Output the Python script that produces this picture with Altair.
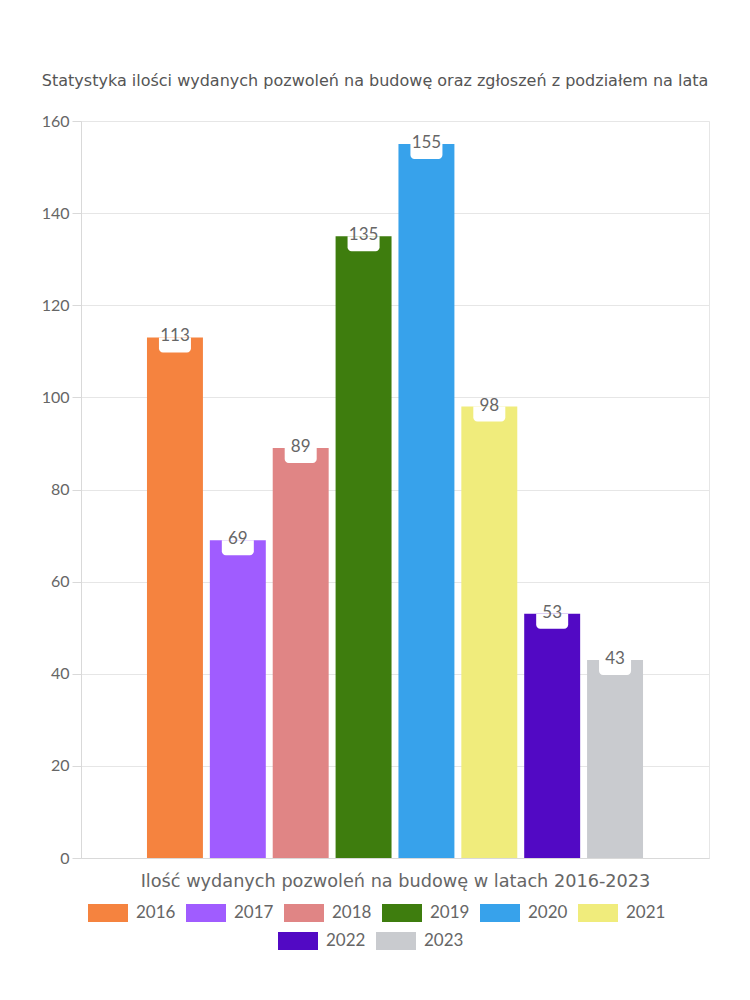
import altair as alt
import pandas as pd

years = ["2016", "2017", "2018", "2019", "2020", "2021", "2022", "2023"]
values = [113, 69, 89, 135, 155, 98, 53, 43]
colors = ["#F5833F", "#A05CFF", "#E08585", "#3E7D0E", "#37A2EB", "#F0EC7C", "#5209C4", "#C9CBCF"]
row1_years = years[:6]
row2_years = years[6:]

title_text = "Statystyka ilości wydanych pozwoleń na budowę oraz zgłoszeń z podziałem na lata"
x_title = "Ilość wydanych pozwoleń na budowę w latach 2016-2023"

df = pd.DataFrame({"year": years, "value": values, "group": ["all"] * len(years)})

FONT = "DejaVu Sans"
NUMFONT = "Lato"
TXT = "#666666"

x_enc = alt.X(
    "group:N",
    scale=alt.Scale(paddingInner=0, paddingOuter=0.133),
    axis=alt.Axis(labels=False, ticks=False, title=x_title, titleFontSize=17.7,
                  titleColor=TXT, titleFont=FONT, titleFontWeight="normal",
                  titlePadding=14, domainColor="#d9d9d9", grid=False),
)
xo_enc = alt.XOffset("year:N", scale=alt.Scale(domain=years, paddingInner=0.11, paddingOuter=0))
y_enc = alt.Y(
    "value:Q",
    scale=alt.Scale(domain=[0, 160]),
    axis=alt.Axis(values=list(range(0, 161, 20)), title=None, labelFontSize=16,
                  labelColor=TXT, labelFont=NUMFONT, labelPadding=3, tickSize=9,
                  tickColor="#d9d9d9", domainColor="#d9d9d9", gridColor="#e6e6e6"),
)

sym = "M-1,-0.45L1,-0.45L1,0.45L-1,0.45Z"

def legend(lx, ly):
    return alt.Legend(orient="none", legendX=lx, legendY=ly, direction="horizontal",
                      title=None, symbolType=sym, symbolSize=1600, symbolStrokeWidth=0,
                      labelFontSize=17, labelColor=TXT, labelFont=NUMFONT, labelOffset=8,
                      columnPadding=10, symbolOpacity=1)

base = alt.Chart(df)

bars1 = base.transform_filter(
    alt.FieldOneOfPredicate(field="year", oneOf=row1_years)
).mark_bar().encode(
    x=x_enc, xOffset=xo_enc, y=y_enc,
    color=alt.Color("year:N", scale=alt.Scale(domain=row1_years, range=colors[:6]),
                    legend=legend(7, 772)),
)
bars2 = base.transform_filter(
    alt.FieldOneOfPredicate(field="year", oneOf=row2_years)
).mark_bar().encode(
    x=x_enc, xOffset=xo_enc, y=y_enc,
    color=alt.Color("year:N", scale=alt.Scale(domain=row2_years, range=colors[6:]),
                    legend=legend(197, 800)),
)

boxes = base.mark_bar(color="white", size=32, y2Offset=15,
                      cornerRadiusBottomLeft=4, cornerRadiusBottomRight=4).encode(
    x=x_enc, xOffset=xo_enc, y=y_enc, y2="value:Q"
)

labels = base.mark_text(baseline="middle", dy=-1, fontSize=17, color=TXT, font=NUMFONT).encode(
    x=x_enc, xOffset=xo_enc, y=y_enc, text="value:Q"
)

chart = alt.layer(bars1, bars2, boxes, labels).resolve_scale(
    color="independent"
).properties(
    width=628,
    height=737,
    title=alt.TitleParams(title_text, fontSize=16, font=FONT, color="#555555",
                          fontWeight="normal", offset=24, anchor="middle", frame="bounds"),
    padding={"top": 65, "left": 33, "right": 5, "bottom": 5},
).configure_view(stroke="#e6e6e6")

chart.save("out.html", embed_options={"renderer": "svg", "actions": False})
